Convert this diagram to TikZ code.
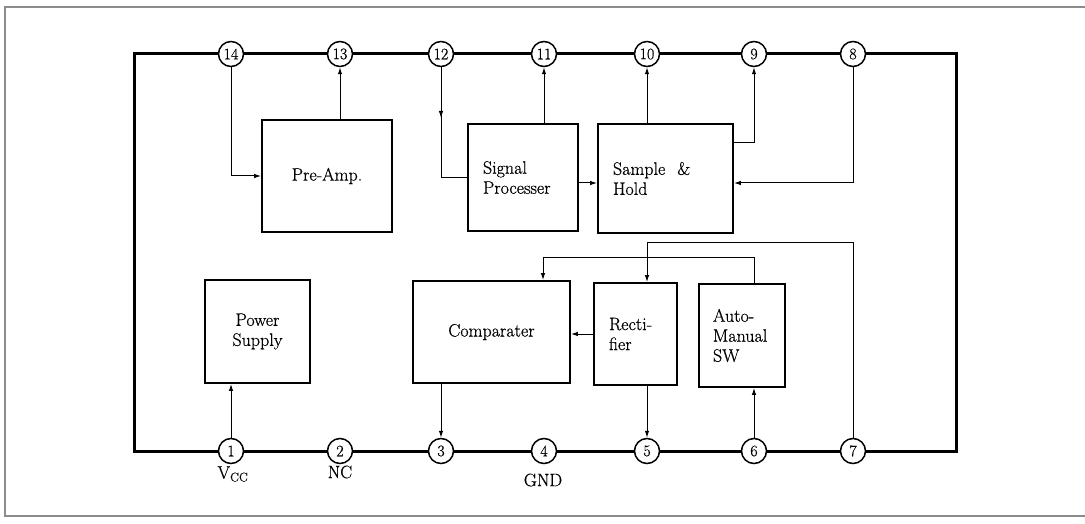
\documentclass[tikz,border=0pt]{standalone}
\usepackage{fontspec}
\usepackage{tikz}
\usetikzlibrary{arrows.meta,calc}
\newfontfamily\scanfont{Latin Modern Roman}[FakeBold=0.6]
\definecolor{FrameGray}{HTML}{8C8C8C}

\begin{document}
\begin{tikzpicture}[x=1pt,y=-1pt,>={Latex[length=7pt,width=4.5pt]},
    pin/.style={circle,draw,line width=1.5pt,fill=white,minimum size=25pt,
      inner sep=0pt,font=\scanfont\fontsize{16}{18}\selectfont},
    blk/.style={draw,line width=1.8pt,inner sep=0pt,align=center,
      font=\scanfont\fontsize{18}{20}\selectfont},
    blkl/.style={blk,align=left,inner xsep=15pt},
    lbl/.style={font=\scanfont\fontsize{18}{20}\selectfont,inner sep=0pt},
    wire/.style={line width=1pt}]
  \useasboundingbox (0,0) rectangle (1085,524);
  % page frame and package outline
  \draw[FrameGray,line width=1.2pt] (1085,7) -- (5,7) -- (5,516) -- (1085,516);
  \draw[line width=3pt] (134,54) rectangle (956,451);

  % blocks
  \node[blk,minimum width=130pt,minimum height=112pt] (preamp) at (327,176) {Pre-Amp.};
  \node[blkl,text width=80pt,minimum height=107pt] (sigproc) at (523,177.5) {Signal\\Processer};
  \node[blkl,text width=105pt,minimum height=109pt] (sample) at (665.5,178.5) {Sample\ \ \&\\Hold};
  \node[blk,minimum width=105pt,minimum height=103pt] (power) at (257.5,331.5) {Power\\Supply};
  \node[blk,minimum width=157pt,minimum height=102pt] (comp) at (491.5,332) {Comparater};
  \node[blkl,text width=53pt,minimum height=102pt] (rect) at (635.5,334) {Recti-\\fier};
  \node[blkl,inner xsep=14pt,text width=58pt,minimum height=103pt] (auto) at (742,335.5) {Auto-\\Manual\\SW};

  % pins
  \foreach \n/\x in {1/231,2/340,3/441,4/544,5/647,6/754,7/853}
    \node[pin] (p\n) at (\x,451) {\n};
  \foreach \n/\x in {14/231,13/340,12/441,11/544,10/647,9/754,8/853}
    \node[pin] (p\n) at (\x,54) {\n};

  \node[lbl] (vcc) at (233,474) {V\textsubscript{CC}};
  \node[lbl] (nc) at (340,472) {NC};
  \node[lbl] (gnd) at (543,480) {GND};

  % signal paths
  \coordinate (mid12) at (441,118);
  \coordinate (sh) at (0,183);
  \coordinate (sh9) at (0,143);
  \coordinate (bus7) at (647,242);
  \coordinate (bus6) at (543,257);
  \draw[wire,->] (p14) |- (preamp.west);
  \draw[wire,->] (preamp.north -| p13) -- (p13);
  \draw[wire] (p12) |- (sigproc.west);
  \draw[wire,->] (p12) -- (mid12);
  \draw[wire,->] (sigproc.north -| p11) -- (p11);
  \draw[wire,->] (sigproc.east |- sh) -- (sample.west |- sh);
  \draw[wire,->] (sample.north -| p10) -- (p10);
  \draw[wire,->] (sample.east |- sh9) -| (p9);
  \draw[wire,->] (p8) |- (sample.east |- sh);
  \draw[wire,->] (p7) |- (bus7) -- (rect.north -| bus7);
  \draw[wire,->] (auto.north -| p6) |- (bus6) -- (comp.north -| bus6);
  \draw[wire,->] (rect.west) -- (rect.west -| comp.east);
  \draw[wire,->] (rect.south -| p5) -- (p5);
  \draw[wire,->] (comp.south -| p3) -- (p3);
  \draw[wire,->] (p6) -- (auto.south -| p6);
  \draw[wire,->] (p1) -- (power.south -| p1);
\end{tikzpicture}
\end{document}
